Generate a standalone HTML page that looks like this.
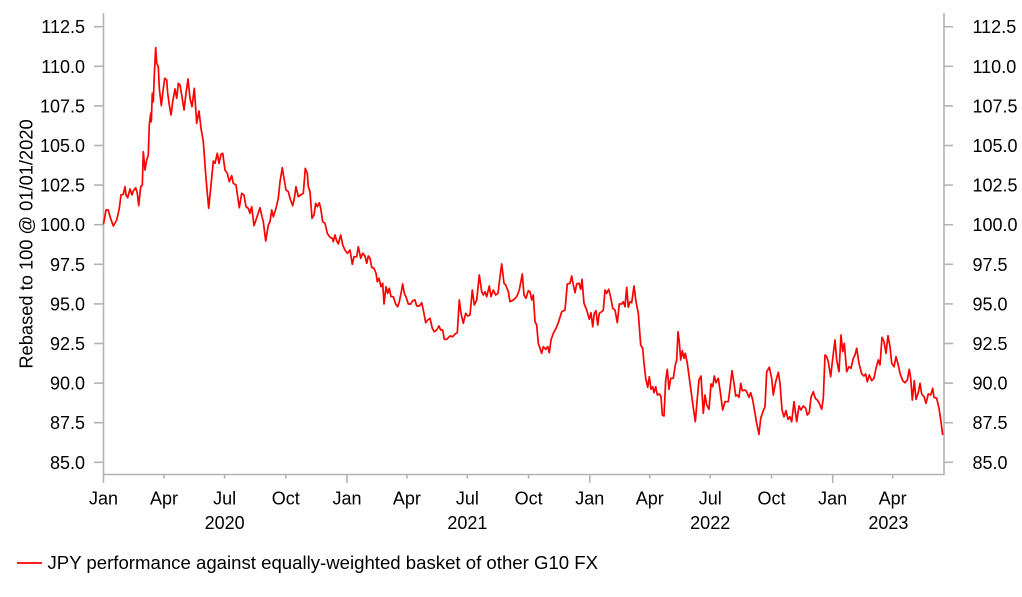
<!DOCTYPE html>
<html>
<head>
<meta charset="utf-8">
<style>
html,body{margin:0;padding:0;background:#fff;}
svg{display:block;}
text{font-family:"Liberation Sans",Arial,sans-serif;font-size:18px;fill:#000;}
</style>
</head>
<body>
<svg width="1022" height="597" viewBox="0 0 1022 597" xmlns="http://www.w3.org/2000/svg">
<!-- axes -->
<g stroke="#b3b3b3" stroke-width="1.6" fill="none">
<line x1="103.5" y1="13" x2="103.5" y2="483"/>
<line x1="944" y1="13" x2="944" y2="475"/>
<line x1="103.5" y1="474.5" x2="944.8" y2="474.5"/>
<!-- left ticks -->
<line x1="94" y1="26.7" x2="103.5" y2="26.7"/>
<line x1="94" y1="66.3" x2="103.5" y2="66.3"/>
<line x1="94" y1="105.9" x2="103.5" y2="105.9"/>
<line x1="94" y1="145.5" x2="103.5" y2="145.5"/>
<line x1="94" y1="185.1" x2="103.5" y2="185.1"/>
<line x1="94" y1="224.7" x2="103.5" y2="224.7"/>
<line x1="94" y1="264.3" x2="103.5" y2="264.3"/>
<line x1="94" y1="303.9" x2="103.5" y2="303.9"/>
<line x1="94" y1="343.5" x2="103.5" y2="343.5"/>
<line x1="94" y1="383.1" x2="103.5" y2="383.1"/>
<line x1="94" y1="422.7" x2="103.5" y2="422.7"/>
<line x1="94" y1="462.3" x2="103.5" y2="462.3"/>
<!-- right ticks -->
<line x1="944" y1="26.7" x2="953" y2="26.7"/>
<line x1="944" y1="66.3" x2="953" y2="66.3"/>
<line x1="944" y1="105.9" x2="953" y2="105.9"/>
<line x1="944" y1="145.5" x2="953" y2="145.5"/>
<line x1="944" y1="185.1" x2="953" y2="185.1"/>
<line x1="944" y1="224.7" x2="953" y2="224.7"/>
<line x1="944" y1="264.3" x2="953" y2="264.3"/>
<line x1="944" y1="303.9" x2="953" y2="303.9"/>
<line x1="944" y1="343.5" x2="953" y2="343.5"/>
<line x1="944" y1="383.1" x2="953" y2="383.1"/>
<line x1="944" y1="422.7" x2="953" y2="422.7"/>
<line x1="944" y1="462.3" x2="953" y2="462.3"/>
<!-- x ticks -->
<line x1="164" y1="474.5" x2="164" y2="478.5"/>
<line x1="224.6" y1="474.5" x2="224.6" y2="478.5"/>
<line x1="285.8" y1="474.5" x2="285.8" y2="478.5"/>
<line x1="347" y1="474.5" x2="347" y2="483"/>
<line x1="406.9" y1="474.5" x2="406.9" y2="478.5"/>
<line x1="467.4" y1="474.5" x2="467.4" y2="478.5"/>
<line x1="528.6" y1="474.5" x2="528.6" y2="478.5"/>
<line x1="589.8" y1="474.5" x2="589.8" y2="483"/>
<line x1="649.7" y1="474.5" x2="649.7" y2="478.5"/>
<line x1="710.2" y1="474.5" x2="710.2" y2="478.5"/>
<line x1="771.5" y1="474.5" x2="771.5" y2="478.5"/>
<line x1="832.7" y1="474.5" x2="832.7" y2="483"/>
<line x1="892.6" y1="474.5" x2="892.6" y2="478.5"/>
</g>

<!-- left tick labels -->
<g text-anchor="end">
<text x="85" y="33.2">112.5</text>
<text x="85" y="72.8">110.0</text>
<text x="85" y="112.4">107.5</text>
<text x="85" y="152">105.0</text>
<text x="85" y="191.6">102.5</text>
<text x="85" y="231.2">100.0</text>
<text x="85" y="270.8">97.5</text>
<text x="85" y="310.4">95.0</text>
<text x="85" y="350">92.5</text>
<text x="85" y="389.6">90.0</text>
<text x="85" y="429.2">87.5</text>
<text x="85" y="468.8">85.0</text>
</g>
<!-- right tick labels -->
<g text-anchor="start">
<text x="972.5" y="33.2">112.5</text>
<text x="972.5" y="72.8">110.0</text>
<text x="972.5" y="112.4">107.5</text>
<text x="972.5" y="152">105.0</text>
<text x="972.5" y="191.6">102.5</text>
<text x="972.5" y="231.2">100.0</text>
<text x="972.5" y="270.8">97.5</text>
<text x="972.5" y="310.4">95.0</text>
<text x="972.5" y="350">92.5</text>
<text x="972.5" y="389.6">90.0</text>
<text x="972.5" y="429.2">87.5</text>
<text x="972.5" y="468.8">85.0</text>
</g>

<!-- month labels -->
<g text-anchor="middle">
<text x="103.5" y="504.5">Jan</text>
<text x="164" y="504.5">Apr</text>
<text x="224.6" y="504.5">Jul</text>
<text x="285.8" y="504.5">Oct</text>
<text x="347" y="504.5">Jan</text>
<text x="406.9" y="504.5">Apr</text>
<text x="467.4" y="504.5">Jul</text>
<text x="528.6" y="504.5">Oct</text>
<text x="589.8" y="504.5">Jan</text>
<text x="649.7" y="504.5">Apr</text>
<text x="710.2" y="504.5">Jul</text>
<text x="771.5" y="504.5">Oct</text>
<text x="832.7" y="504.5">Jan</text>
<text x="892.6" y="504.5">Apr</text>
<text x="224.6" y="529">2020</text>
<text x="467.4" y="529">2021</text>
<text x="710.2" y="529">2022</text>
<text x="888.4" y="529">2023</text>
</g>

<!-- y-axis title -->
<text transform="translate(32.5,244) rotate(-90)" text-anchor="middle" style="font-size:18.3px">Rebased to 100 @ 01/01/2020</text>

<!-- series -->
<polyline fill="none" stroke="#ff0000" stroke-width="1.7" stroke-linejoin="round" points="
103.5,224.3 106,210 108.3,210 110,216.7 113.3,226 116.7,220 119.3,208.3 121,195 123.3,194.3 125,186.7 126,195 127.7,197.7 130,189 132,195 133.3,191 135.7,187.7 137.3,193.3 138.7,205.7 140.7,186.7 142.3,185 143.3,151.7 145,170 146.7,160 148.3,155 149.3,125 150.7,113.3 151.3,121.7 152.3,93.3 153.3,101.7 154.3,75 155.7,47.7 156.7,63.3 158.3,66.7 159.3,88.3 161.3,105.7 162.7,93.3 164.7,78.3 166.7,80 167.7,93.3 169.3,105 171,115 172.7,101.7 175,89 176.7,98.3 178.3,83.3 180,85 181.7,95 184,110 186,93.3 188,79 190,98.3 192,106.7 194.3,88.3 196.7,123.3 199,111 201,128.3 203.3,141.7 206,178.3 208.7,208.3 211,185 213.3,161 215,163.3 217.3,153.3 219,163.3 221,154.3 222.7,153.3 225,170 227.3,173.3 229.3,181.7 231.7,175.7 233.3,183.3 236,185 239.3,207.7 241.7,193.3 244,195 246,206.7 248.3,208.3 250,213.3 251.7,206.7 254,225.7 256.7,217.7 260,207.7 262,216.7 263.3,221.7 265.7,241 268.3,225 270,221.7 271.7,210 273.3,216.7 276,208.3 278.3,198.3 280,181.7 282.3,167.7 284,178.3 286,190 288.3,191.7 290,198.3 292.7,205.7 294.3,198.3 296,186.7 298.3,196.7 300.7,195
303.3,193.3 305.3,168.3 307.3,173.3 308.3,186.7 310,191.7 312,218.3 314,215 315.7,203.3 317.3,206.7 319.3,202.7 320.7,208.3 322.7,221.7 325,223.3 327.3,233.3 330,237.3 332.3,238.3 333.3,241.7 335,235 336.7,240.7 338.3,244 340.7,235 342.7,245 345,250 347.3,253.3 350,250 352.3,264.3 354,256.7 356.7,256.7 358.3,246.7 360.7,258.3 362.7,253.3 365,256 366.7,263.3 368.3,256 370,258.3 371.7,267.3 374,268.3 376,273.3 377.3,281.7 379,278.3 381,286.7 382.7,283.3 384,304 386,286.7 387.7,293.3 389.3,288.3 391,296.7 393.3,296.7 395.7,304 397.7,306.7 399.3,301.7 401,293.3 402.7,284 404.3,293.3 406,296.7 408.3,304 410.7,304 412.7,300.7 415,300 416.7,306 419.3,306 421.7,302.7 423.3,310 425.7,322.7 427.7,320 430,318.3 432.3,328.3 434.3,331.7 436.7,330 439,326 440.7,330 442.7,330 444.3,339.3 446.7,339.3 450,336 452.7,336.7 455,334 457.3,332.7 459.3,300 461,313.3 463.3,323.3 465.7,313.3 467.7,316 470,315 472.3,290 474.3,305 476.7,300 479.3,275 481.7,291.7 483.3,295 485,291.7 486.7,296.7 489.3,286 491,296.7 493.3,290 495.7,295 498,293.3 500,276.7 501.7,264 504,283.3 505.7,285 508.3,291.7 510,301.7
513.3,300 516.7,296.7 519.3,290 522.3,274 524,295 526,298.3 528.3,290.7 530,291.7 531.7,300 533.3,295 535,321.7 536.7,325 538.3,343.3 541.7,353.3 543.3,346.7 545.7,349.3 547.7,346.7 549.3,352.7 551,340 553.3,333.3 556,328.3 558.3,322.7 561.7,311.7 565,310 567.3,284 570,283.3 571.7,276 573.3,285 575,292.7 576.7,284 579,283.3 580.7,289.3 582,279.3 584,303.3 586.7,310 589.3,319.3 591,312.7 592.7,326.7 594.3,313.3 596,310.7 597.7,325 599.3,313.3 601.7,311.7 603.3,310 605,290 606.7,293.3 608.7,289.3 610.7,297.3 612.7,308.3 615,310 617.3,322.7 619.3,304 621.7,304 623.3,301.7 625,306.7 626.7,287.3 628.3,307.3 630,301.7 631.7,302.7 634,286 636,301.7 638.3,313.3 640.7,345 642.7,348.3 644,363.3 645.7,378.3 647.7,387.3 649.3,376.7 651,389.3 652.7,386.7 654,392.7 655.7,386.7 657.3,395 659.3,394 661,396.7 662.3,415 664,416 665.7,380 667.3,369.3 669,389.3 670.7,378.3 673.3,378.3 675.3,365 676.7,360 678,331.7 679.3,341.7 680.7,360 682.3,350.7 684,358.3 685.3,353.3 687.3,363.3 690,383.3 692.7,403.3 695.3,421.7 697.3,398.3 699,380 701,376 703.3,413.3 705,395 706.7,405 709,409.3 711,384 712.7,386.7 714.3,376 716,382.7 718.3,378.3 720,390
722.7,410 725,401.7 728.3,401.7 730,388.3 732,370.7 734,383.3 735.7,396 737.3,395 739,397.3 740.7,383.3 742.3,390.7 745,390 746.7,391.7 749,397.3 750.7,392.7 752.7,400 755,413.3 756.7,423.3 759,434.3 760.7,418.3 763.3,410.7 765,406.7 766.7,371.7 769.3,367.3 771.7,378.3 773.3,395 775.7,381.7 778.3,372.3 780,383.3 782,410 784,416.7 786,410.7 788,419.3 790,416.7 791.7,421.7 794,401.7 796.7,421.7 799,406 801,410 803.3,406 805.7,408.3 807.3,415 809.3,412.7 811,397.3 813.3,391.7 815.3,398.3 817.3,400 819.3,403.3 821.7,409.3 823.3,398.3 825,355 826.7,356.7 828.3,361.7 830.7,376.7 833.3,353.3 835,340 836.7,360 839,371.7 841,335 842.7,351.7 844.3,343.3 846.7,371.7 849,366.7 851,368.3 853.3,358.3 855,355 856.7,348.3 859,363.3 861.7,374 864,376 865.7,374 867.3,381.7 869.3,375 871.7,380.7 874,378.3 876,368.3 878.3,360 880,365 882,337.3 884,341.7 886,353.3 888,335.7 890,346.7 891.7,363.3 894,366.7 896,356.7 898.3,365 900,373.3 902.7,380.7 905,382.7 907.3,380 909.3,369.3 910.7,378.3 912.3,400 914.3,380.7 916,399.3 918.3,392.7 920,383.3 921.7,394 924,396.7 926,403.3 928.3,394 930.7,395 932.7,388.3 934,397.3 936.7,398.3 939,408.3 941,421.7 942.7,435
"/>

<!-- legend -->
<line x1="17" y1="563" x2="42" y2="563" stroke="#ff0000" stroke-width="1.7"/>
<text x="47.5" y="569" style="font-size:18.6px">JPY performance against equally-weighted basket of other G10 FX</text>
</svg>
</body>
</html>
